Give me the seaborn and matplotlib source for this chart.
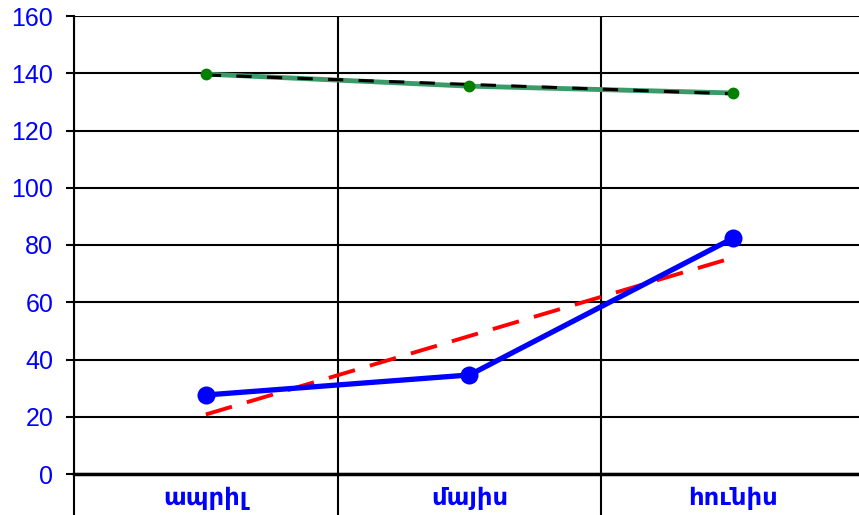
import matplotlib
matplotlib.use('Agg')
import matplotlib.pyplot as plt
import seaborn as sns
import numpy as np
import pandas as pd


# Values.
months = ['ապրիլ', 'մայիս', 'հունիս']
blue_vals = [27.6, 34.6, 82.4]
green_vals = [139.7, 135.5, 133.1]

df = pd.DataFrame({'x': np.arange(len(months)), 'blue': blue_vals, 'green': green_vals})

sns.set_style('white')
plt.rcParams['font.family'] = ['Liberation Sans', 'DejaVu Sans']

fig = plt.figure(figsize=(8.59, 5.15), dpi=100)
ax = fig.add_axes([74 / 859, 41 / 515, 791 / 859, 458 / 515])

# Blue series + red dashed linear trend.
sns.lineplot(data=df, x='x', y='blue', ax=ax, color='#0000ff', linewidth=3.8,
             marker='o', markersize=13, markeredgewidth=0, zorder=4)
sns.regplot(data=df, x='x', y='blue', ax=ax, scatter=False, ci=None, truncate=True,
            line_kws=dict(color='#ff0000', linewidth=2.8, dashes=(7, 4)))

# Green series + black dashed linear trend.
sns.lineplot(data=df, x='x', y='green', ax=ax, color='#3a9a68', linewidth=3.5, zorder=3)
sns.regplot(data=df, x='x', y='green', ax=ax, scatter=False, ci=None, truncate=True,
            line_kws=dict(color='black', linewidth=2.2, dashes=(5, 5), zorder=3.5))
ax.plot(df['x'], df['green'], 'o', color='#008000', markersize=7.5, zorder=5)

ax.set_xlim(-0.5, 2.5)
ax.set_ylim(0, 160)
ax.set_yticks(np.arange(0, 161, 20))
ax.set_xticks(df['x'])
ax.set_xticklabels(months, color='#0000ff', fontsize=17.5, fontweight='bold',
                   family=['DejaVu Sans'])
ax.set_xticks([-0.5, 0.5, 1.5, 2.5], minor=True)
ax.set_xlabel('')
ax.set_ylabel('')

ax.tick_params(axis='x', which='major', length=0, pad=9)
ax.tick_params(axis='x', which='minor', bottom=True, length=30, width=1.5,
               color='black', direction='out')
ax.tick_params(axis='y', length=6, width=1.5, color='black', direction='out',
               labelsize=18, labelcolor='#0000ff', pad=9, left=True)

ax.grid(True, axis='y', color='black', linewidth=1.5)
ax.grid(True, axis='x', which='minor', color='black', linewidth=1.5)
ax.set_axisbelow(True)

for side in ['top', 'right']:
    ax.spines[side].set_visible(False)
ax.spines['left'].set_linewidth(1.5)
ax.spines['left'].set_color('black')
ax.spines['bottom'].set_linewidth(2.5)
ax.spines['bottom'].set_color('black')

fig.savefig('out.png', dpi=100)
